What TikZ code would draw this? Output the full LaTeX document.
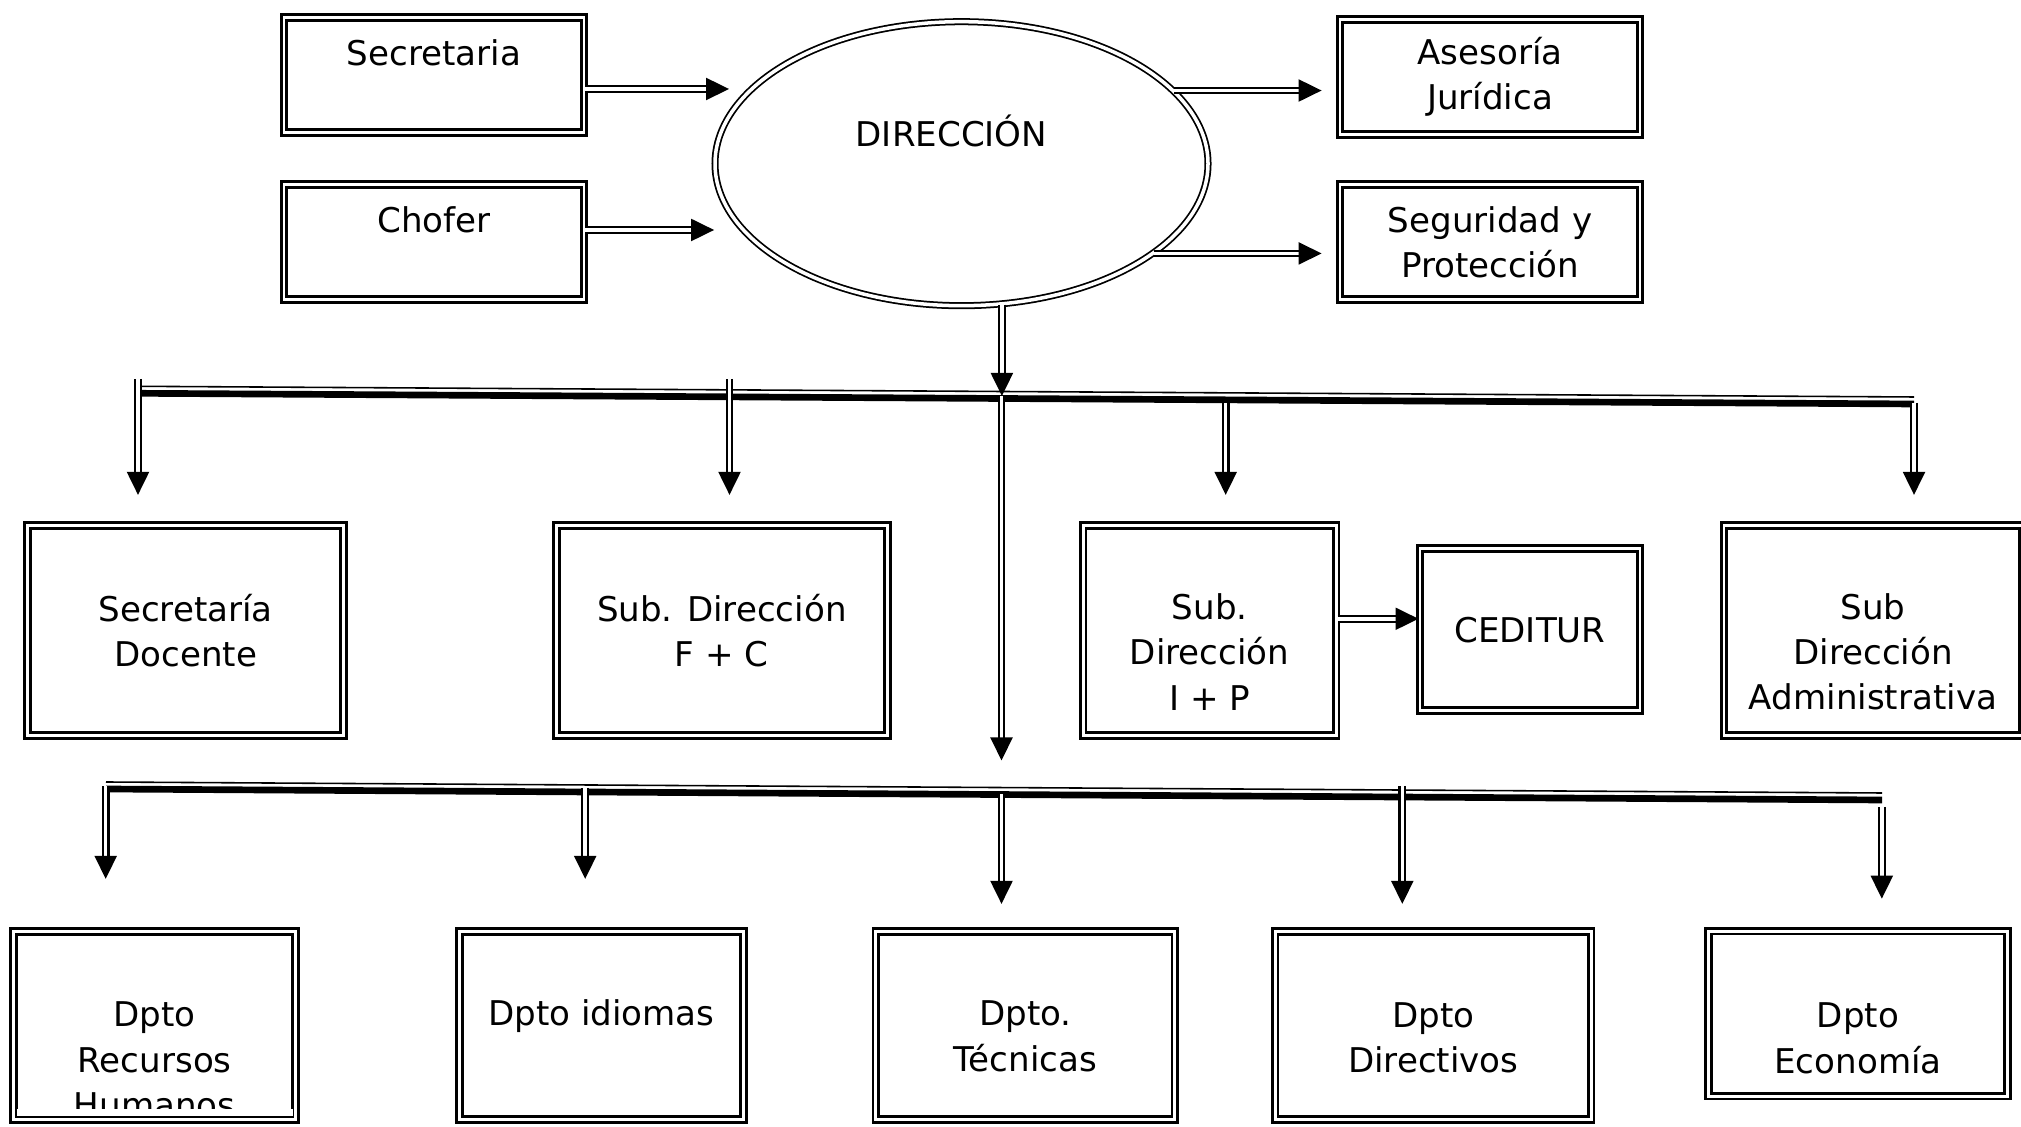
\documentclass[tikz,border=0pt]{standalone}
\usepackage{fontspec}
\setmainfont{DejaVu Sans}
\usepackage{tikz}
\usetikzlibrary{arrows.meta,shapes.geometric}
\newcommand{\lift}[1]{\rule{0pt}{#1}}

\begin{document}
\begin{tikzpicture}
\tikzstyle{unit}=[rectangle, draw, line width=0.8pt, double, double distance=0.8pt, align=center, inner sep=2pt, font=\fontsize{9.7}{12.9}\selectfont]
\tikzstyle{head}=[ellipse, draw, line width=0.5pt, double, double distance=1pt, font=\fontsize{9.7}{12.9}\selectfont]
\tikzstyle{link}=[line width=0.6pt, double, double distance=1pt, -{Triangle[length=2.3mm, width=2.2mm]}]
\tikzstyle{bar}=[line width=1.9pt]
\tikzstyle{barline}=[line width=0.45pt]
\useasboundingbox (0,0) rectangle (20.21,-11.27);
\clip (0,0) rectangle (20.21,-11.27);

% top
\node[unit, minimum width=3cm, minimum height=1.15cm, text depth=4.4mm] (sec) at (4.34,-0.75) {Secretaria};
\node[unit, minimum width=3cm, minimum height=1.15cm, text depth=4.4mm] (cho) at (4.34,-2.42) {Chofer};
\node[head, minimum width=4.93cm, minimum height=2.84cm, text depth=6.6mm] (direc) at (9.615,-1.637) {DIRECCIÓN\hspace*{2mm}};
\node[unit, minimum width=3cm, minimum height=1.15cm] (ase) at (14.9,-0.77) {Asesoría\\Jurídica};
\node[unit, minimum width=3cm, minimum height=1.15cm] (seg) at (14.9,-2.42) {Seguridad y\\Protección};

% sub direcciones
\node[unit, minimum width=3.16cm, minimum height=2.1cm] (sd) at (1.856,-6.303) {Secretaría\\Docente};
\node[unit, minimum width=3.31cm, minimum height=2.1cm] (sfc) at (7.218,-6.303) {Sub. Dirección\\F + C};
\node[unit, minimum width=2.53cm, minimum height=2.1cm] (sip) at (12.096,-6.303) {\lift{6.9mm}Sub.\\Dirección\\I + P};
\node[unit, minimum width=2.2cm, minimum height=1.62cm] (ced) at (15.299,-6.296) {CEDITUR};
\node[unit, minimum width=2.98cm, minimum height=2.1cm] (sad) at (18.73,-6.303) {\lift{6.9mm}Sub\\Dirección\\Administrativa};

% departamentos
\node[unit, inner ysep=0pt, minimum width=2.82cm, minimum height=1.88cm] (rh) at (1.547,-10.253) {\lift{9.4mm}Dpto\\Recursos\\Humanos};
\fill[white] ([xshift=0.45mm,yshift=0.45mm]rh.south west) rectangle ([xshift=-0.45mm,yshift=1.16mm]rh.south east);
\node[unit, minimum width=2.84cm, minimum height=1.88cm, text depth=2.5mm] (idm) at (6.013,-10.253) {Dpto idiomas};
\node[unit, minimum width=2.99cm, minimum height=1.88cm] (tec) at (10.253,-10.253) {\lift{4.7mm}Dpto.\\Técnicas};
\node[unit, minimum width=3.16cm, minimum height=1.88cm] (ddir) at (14.332,-10.253) {\lift{5mm}Dpto\\Directivos};
\node[unit, minimum width=2.99cm, minimum height=1.65cm] (eco) at (18.58,-10.136) {\lift{7.4mm}Dpto\\Economía};

% bars
\coordinate (b1w) at (1.38,-3.933);
\coordinate (b1e) at (19.14,-4.04);
\coordinate (b2w) at (1.06,-7.89);
\coordinate (b2e) at (18.82,-8.0);
\draw[bar] (b1w) -- (b1e);
\draw[barline] ([yshift=0.7mm]b1w) -- ([yshift=0.7mm]b1e);
\draw[bar] (b2w) -- (b2e);
\draw[barline] ([yshift=0.7mm]b2w) -- ([yshift=0.7mm]b2e);

\coordinate (s1) at ([yshift=-1.4mm]sec.east);
\coordinate (c1) at ([yshift=1.2mm]cho.east);
\coordinate (p1) at ([yshift=1.15mm]sip.east);
\coordinate (j1) at (10.015,-3.96);
\coordinate (j2) at (10.015,-7.945);
\coordinate (t1) at (1.38,-3.79);
\coordinate (t2) at (7.295,-3.79);
\coordinate (t3) at (12.257,-4.03);
\coordinate (t4) at (19.14,-4.03);
\coordinate (u1) at (1.057,-7.86);
\coordinate (u2) at (5.852,-7.88);
\coordinate (u3) at (14.023,-7.86);
\coordinate (u4) at (18.818,-8.07);

\path
(s1) edge[link, shorten >=2mm] (s1 -| direc.161)
(c1) edge[link] (c1 -| direc.west)
(direc.19) edge[link, shorten >=1.7mm] (direc.19 -| ase.west)
(direc.-25) edge[link, shorten >=1.7mm] (direc.-25 -| seg.west)
(direc.-74) edge[link] (direc.-74 |- j1)
(j1) edge[link, shorten >=3.4mm] (j2)
(j2) edge[link, shorten >=2.6mm] (j2 |- tec.north)
(t1) edge[link, shorten >=2.9mm] (t1 |- sd.north)
(t2) edge[link, shorten >=2.9mm] (t2 |- sfc.north)
(t3) edge[link, shorten >=2.9mm] (t3 |- sip.north)
(t4) edge[link, shorten >=2.9mm] (t4 |- sad.north)
(p1) edge[link] (p1 -| ced.west)
(u1) edge[link, shorten >=5.1mm] (u1 |- rh.north)
(u2) edge[link, shorten >=5.1mm] (u2 |- idm.north)
(u3) edge[link, shorten >=2.6mm] (u3 |- ddir.north)
(u4) edge[link, shorten >=3.1mm] (u4 |- eco.north);

\end{tikzpicture}
\end{document}
